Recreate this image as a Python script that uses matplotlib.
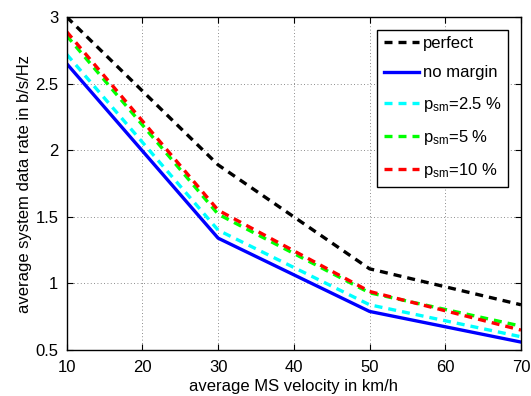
import matplotlib
matplotlib.use("Agg")
import matplotlib.pyplot as plt

plt.rcParams['font.family'] = ['Liberation Sans', 'DejaVu Sans']
plt.rcParams['mathtext.default'] = 'regular'

velocity = [10, 30, 50, 70]
perfect = [3.00, 1.89, 1.11, 0.84]
no_margin = [2.65, 1.34, 0.79, 0.56]
psm_2_5 = [2.72, 1.40, 0.84, 0.60]
psm_5 = [2.86, 1.52, 0.93, 0.68]
psm_10 = [2.89, 1.55, 0.94, 0.65]

xticks = [10, 20, 30, 40, 50, 60, 70]
yticks = [0.5, 1, 1.5, 2, 2.5, 3]
ytick_labels = ['0.5', '1', '1.5', '2', '2.5', '3']

fig = plt.figure(figsize=(5.31, 3.96), dpi=100)
ax = fig.add_axes([0.1256, 0.116, 0.8555, 0.841])

lw = 2.4
dash = (0, (2.4, 1.8))
ax.plot(velocity, perfect, color='black', linestyle=dash, lw=lw, label='perfect')
ax.plot(velocity, no_margin, color='#0000ff', linestyle='-', lw=lw, label='no margin')
ax.plot(velocity, psm_2_5, color='#00ffff', linestyle=dash, lw=lw, label=r'$p_{sm}$=2.5 %')
ax.plot(velocity, psm_5, color='#00ff00', linestyle=dash, lw=lw, label=r'$p_{sm}$=5 %')
ax.plot(velocity, psm_10, color='#ff0000', linestyle=dash, lw=lw, label=r'$p_{sm}$=10 %')

ax.set_xlim(10, 70)
ax.set_ylim(0.5, 3)
ax.set_xticks(xticks)
ax.set_yticks(yticks)
ax.set_yticklabels(ytick_labels)
ax.tick_params(direction='in', top=True, right=True, labelsize=12, length=4)
ax.tick_params(axis='x', pad=7)
ax.tick_params(axis='y', pad=6)
ax.grid(True, linestyle=(0, (1, 3)), color='black', linewidth=0.6, alpha=0.6)
for s in ax.spines.values():
    s.set_linewidth(1.0)

ax.set_xlabel('average MS velocity in km/h', fontsize=12, labelpad=3)
ax.set_ylabel('average system data rate in b/s/Hz', fontsize=12, labelpad=2)

leg = ax.legend(loc='upper right', fontsize=12, handlelength=2.1, handletextpad=0.25,
                labelspacing=0.85, borderpad=0.4, fancybox=False, framealpha=1,
                edgecolor='black', borderaxespad=0.75)
leg.get_frame().set_linewidth(1.0)

fig.savefig('out.png', dpi=100)
